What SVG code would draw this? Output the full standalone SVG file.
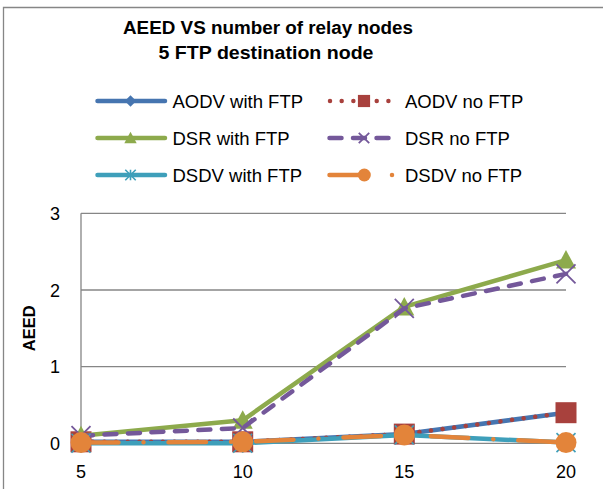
<svg xmlns="http://www.w3.org/2000/svg" width="603" height="489" viewBox="0 0 603 489">
<defs>
<style>
text{font-family:"Liberation Sans",Arial,sans-serif;fill:#000}
.title{font-size:18px;font-weight:bold;text-anchor:middle}
.tick{font-size:18px}
.ytick{font-size:18px;text-anchor:end}
.xtick{font-size:18px;text-anchor:middle}
.leg{font-size:18.5px}
.axt{font-size:16.5px;font-weight:bold;text-anchor:middle}
.grid{stroke:#868686;stroke-width:1.3;fill:none}
.ln{fill:none;stroke-width:4.5;stroke-linejoin:round;stroke-linecap:round}
.aodv1{stroke:#4675B0}
.aodv2{stroke:#A8413D;stroke-dasharray:0.01 11.67}
.dsr1{stroke:#8DAA4C}
.dsr2{stroke:#74589A;stroke-dasharray:12 11.5}
.dsdv1{stroke:#3E9FBA}
.dsdv2{stroke:#E3843A;stroke-dasharray:37.5 25 0.01 25}
.mk-aodv1{fill:#4675B0}
.mk-aodv2{fill:#A8413D}
.mk-dsr1{fill:#8DAA4C}
.mk-dsr2{fill:none;stroke:#74589A;stroke-width:1.8}
.mk-dsdv1{fill:none;stroke:#3E9FBA;stroke-width:1.6}
.mk-dsdv2{fill:#E3843A}
</style>
<path id="diamond" d="M0,-9.5L9.5,0L0,9.5L-9.5,0Z"/>
<rect id="square" x="-10.5" y="-10.5" width="21" height="21"/>
<path id="tri" d="M0,-10L10,8.5L-10,8.5Z"/>
<path id="cross" d="M-9.5,-9.5L9.5,9.5M-9.5,9.5L9.5,-9.5" vector-effect="non-scaling-stroke"/>
<path id="star" d="M-9.5,-9.5L9.5,9.5M-9.5,9.5L9.5,-9.5M0,-9.5V9.5" vector-effect="non-scaling-stroke"/>
<circle id="dot" r="10.5"/>
</defs>
<rect width="603" height="489" fill="#fff"/>
<path d="M3.5,489V7.5H603" fill="none" stroke="#868686" stroke-width="1.3"/>

<g id="title">
<text class="title" x="268" y="34" textLength="290" lengthAdjust="spacingAndGlyphs">AEED VS number of relay nodes</text>
<text class="title" x="266" y="58.5" textLength="215" lengthAdjust="spacingAndGlyphs">5 FTP destination node</text>
</g>

<g id="legend">
<g id="leg-aodv1">
<path class="ln aodv1" d="M97.5,101H165"/>
<use href="#diamond" class="mk-aodv1" transform="translate(130.5,101) scale(0.6)"/>
<text class="leg" x="172.5" y="107.5">AODV with FTP</text>
</g>
<g id="leg-aodv2">
<path class="ln aodv2" d="M330,101H390"/>
<use href="#square" class="mk-aodv2" transform="translate(364,101) scale(0.58)"/>
<text class="leg" x="405" y="107.5">AODV no FTP</text>
</g>
<g id="leg-dsr1">
<path class="ln dsr1" d="M97.5,138H165"/>
<use href="#tri" class="mk-dsr1" transform="translate(130.5,138) scale(0.62)"/>
<text class="leg" x="172.5" y="144.5">DSR with FTP</text>
</g>
<g id="leg-dsr2">
<path class="ln dsr2" d="M329.5,138H388.5"/>
<use href="#cross" class="mk-dsr2" transform="translate(364,138) scale(0.55)"/>
<text class="leg" x="405" y="144.5">DSR no FTP</text>
</g>
<g id="leg-dsdv1">
<path class="ln dsdv1" d="M97.5,175H165"/>
<use href="#star" class="mk-dsdv1" transform="translate(130.5,175) scale(0.55)"/>
<text class="leg" x="172.5" y="181.5">DSDV with FTP</text>
</g>
<g id="leg-dsdv2">
<path class="ln dsdv2" d="M329.5,175H393"/>
<use href="#dot" class="mk-dsdv2" transform="translate(364.3,175) scale(0.62)"/>
<text class="leg" x="405" y="181.5">DSDV no FTP</text>
</g>
</g>

<g id="axes">
<path class="grid" d="M81,213.3H566M81,290H566M81,366.7H566"/>
<path class="grid" d="M81,213.3V443.3H566"/>
<text class="ytick" x="60" y="220">3</text>
<text class="ytick" x="60" y="296.5">2</text>
<text class="ytick" x="60" y="373.2">1</text>
<text class="ytick" x="60" y="450">0</text>
<text class="xtick" x="81" y="478">5</text>
<text class="xtick" x="242.7" y="478">10</text>
<text class="xtick" x="404.3" y="478">15</text>
<text class="xtick" x="566" y="478">20</text>
<text class="axt" transform="translate(35,328.3) rotate(-90)">AEED</text>
</g>

<g id="connectors">
<g id="s-aodv1">
<path class="ln aodv1" d="M81,441.8L242.7,441.8L404.3,434.1L566,412.7"/>
<use href="#diamond" class="mk-aodv1" x="81" y="441.8"/>
<use href="#diamond" class="mk-aodv1" x="242.7" y="441.8"/>
<use href="#diamond" class="mk-aodv1" x="404.3" y="434.1"/>
<use href="#diamond" class="mk-aodv1" x="566" y="412.7"/>
</g>
<g id="s-aodv2">
<path class="ln aodv2" d="M81,441.8L242.7,441.8L404.3,434.1L566,412.7"/>
<use href="#square" class="mk-aodv2" x="81" y="441.8"/>
<use href="#square" class="mk-aodv2" x="242.7" y="441.8"/>
<use href="#square" class="mk-aodv2" x="404.3" y="434.1"/>
<use href="#square" class="mk-aodv2" x="566" y="412.7"/>
</g>
<g id="s-dsr1">
<path class="ln dsr1" d="M81,435.7L242.7,420.3L404.3,306.9L566,260.1"/>
<use href="#tri" class="mk-dsr1" x="81" y="435.7"/>
<use href="#tri" class="mk-dsr1" x="242.7" y="420.3"/>
<use href="#tri" class="mk-dsr1" x="404.3" y="306.9"/>
<use href="#tri" class="mk-dsr1" x="566" y="260.1"/>
</g>
<g id="s-dsr2">
<path class="ln dsr2" d="M81,435.7L242.7,428L404.3,308.4L566,273.9"/>
<use href="#cross" class="mk-dsr2" x="81" y="435.7"/>
<use href="#cross" class="mk-dsr2" x="242.7" y="428"/>
<use href="#cross" class="mk-dsr2" x="404.3" y="308.4"/>
<use href="#cross" class="mk-dsr2" x="566" y="273.9"/>
</g>
<g id="s-dsdv1">
<path class="ln dsdv1" d="M81,443.3L242.7,443.3L404.3,434.9L566,442.6"/>
<use href="#star" class="mk-dsdv1" x="81" y="443.3"/>
<use href="#star" class="mk-dsdv1" x="242.7" y="443.3"/>
<use href="#star" class="mk-dsdv1" x="404.3" y="434.9"/>
<use href="#star" class="mk-dsdv1" x="566" y="442.6"/>
</g>
<g id="s-dsdv2">
<path class="ln dsdv2" d="M81,442.6L242.7,441.8L404.3,434.9L566,442.6"/>
<use href="#dot" class="mk-dsdv2" x="81" y="442.6"/>
<use href="#dot" class="mk-dsdv2" x="242.7" y="441.8"/>
<use href="#dot" class="mk-dsdv2" x="404.3" y="434.9"/>
<use href="#dot" class="mk-dsdv2" x="566" y="442.6"/>
</g>
</g>
</svg>
